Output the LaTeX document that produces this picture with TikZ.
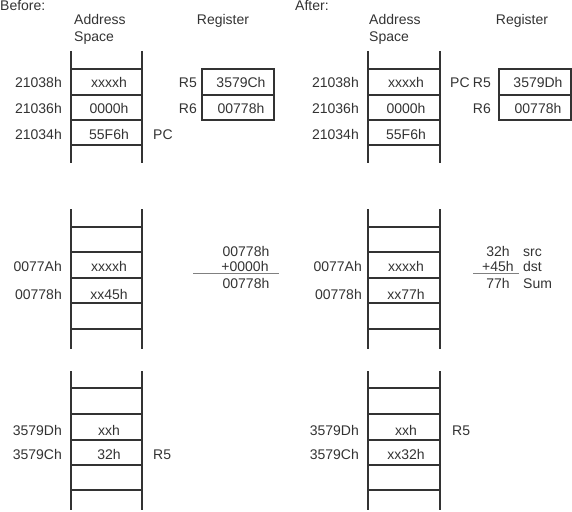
\documentclass[tikz,border=0pt]{standalone}
\usepackage{fontspec}
\setmainfont{Liberation Sans}
\usetikzlibrary{positioning}
\definecolor{ink}{HTML}{333333}

\begin{document}
\begin{tikzpicture}[
        x=1pt, y=-1pt,
        txt/.style={inner sep=0pt, text=ink, font=\fontsize{14}{16.5}\selectfont},
        addr/.style={txt, anchor=base east},
        cell/.style={txt, anchor=base},
        note/.style={txt, anchor=base west},
        rail/.style={draw=ink, line width=1.8pt},
        rung/.style={draw=ink, line width=1.5pt},
        regbox/.style={draw=ink, line width=1.6pt},
        sumline/.style={draw=gray, line width=1pt}
    ]
    \useasboundingbox (0,0) rectangle (572,511);

    % Before
    \node (before) [note] at (0,11) {Before:};
    \node (bspace) [note, align=left] at (74,41.5) {Address\\Space};
    \node (breg) [cell] at (223,25) {Register};

    \draw [rail] (71,51) -- (71,163) (142,51) -- (142,163);
    \draw [rung] (71,69) -- (142,69) (71,95) -- (142,95) (71,120) -- (142,120) (71,145) -- (142,145);
    \node (ba1) [addr] at (62,87.5) {21038h};
    \node (ba2) [addr] at (62,113) {21036h};
    \node (ba3) [addr] at (62,139) {21034h};
    \node (bc1) [cell] at (109,87.5) {xxxxh};
    \node (bc2) [cell] at (109,113) {0000h};
    \node (bc3) [cell] at (109,139) {55F6h};
    \node (bpc) [note] at (153,139) {PC};

    \draw [regbox] (202,69) rectangle (274,120) (202,95) -- (274,95);
    \node (br5) [addr] at (197,87.5) {R5};
    \node (br6) [addr] at (197,113) {R6};
    \node (bv5) [cell] at (241,87.5) {3579Ch};
    \node (bv6) [cell] at (241,113) {00778h};

    \draw [rail] (71,209) -- (71,349) (142,209) -- (142,349);
    \draw [rung] (71,227) -- (142,227) (71,252) -- (142,252) (71,278) -- (142,278) (71,303) -- (142,303) (71,329) -- (142,329);
    \node (bm1) [addr] at (62,271) {0077Ah};
    \node (bm2) [addr] at (62,299) {00778h};
    \node (bd1) [cell] at (109,271) {xxxxh};
    \node (bd2) [cell] at (109,299) {xx45h};

    \node (bs1) [cell] at (246,256) {00778h};
    \node (bs2) [cell] at (245,271) {+0000h};
    \node (bs3) [cell] at (246,288) {00778h};
    \draw [sumline] (193,273) -- (279,273);

    \draw [rail] (71,371) -- (71,510) (142,371) -- (142,510);
    \draw [rung] (71,388) -- (142,388) (71,414) -- (142,414) (71,440) -- (142,440) (71,465) -- (142,465) (71,490) -- (142,490);
    \node (bb1) [addr] at (62,435) {3579Dh};
    \node (bb2) [addr] at (62,459) {3579Ch};
    \node (be1) [cell] at (109,435) {xxh};
    \node (be2) [cell] at (109,459) {32h};
    \node (bbr5) [note] at (153,459) {R5};

    % After
    \node (after) [note] at (295,11) {After:};
    \node (aspace) [note, align=left] at (369,41.5) {Address\\Space};
    \node (areg) [cell] at (522,25) {Register};

    \draw [rail] (368,51) -- (368,163) (440,51) -- (440,163);
    \draw [rung] (368,69) -- (440,69) (368,95) -- (440,95) (368,120) -- (440,120) (368,145) -- (440,145);
    \node (aa1) [addr] at (359,87.5) {21038h};
    \node (aa2) [addr] at (359,113) {21036h};
    \node (aa3) [addr] at (359,139) {21034h};
    \node (ac1) [cell] at (406,87.5) {xxxxh};
    \node (ac2) [cell] at (406,113) {0000h};
    \node (ac3) [cell] at (406,139) {55F6h};
    \node (apc) [note] at (450,87.5) {PC};

    \draw [regbox] (499,69) rectangle (571,120) (499,95) -- (571,95);
    \node (ar5) [addr] at (491,87.5) {R5};
    \node (ar6) [addr] at (491,113) {R6};
    \node (av5) [cell] at (538,87.5) {3579Dh};
    \node (av6) [cell] at (538,113) {00778h};

    \draw [rail] (368,209) -- (368,349) (440,209) -- (440,349);
    \draw [rung] (368,227) -- (440,227) (368,252) -- (440,252) (368,278) -- (440,278) (368,303) -- (440,303) (368,329) -- (440,329);
    \node (am1) [addr] at (362,271) {0077Ah};
    \node (am2) [addr] at (362,299) {00778h};
    \node (ad1) [cell] at (406,271) {xxxxh};
    \node (ad2) [cell] at (406,299) {xx77h};

    \node (as1) [cell] at (498,256) {32h};
    \node (as2) [cell] at (498,271) {+45h};
    \node (as3) [cell] at (498,288) {77h};
    \draw [sumline] (473,273) -- (519,273);
    \node (asrc) [note] at (523,256) {src};
    \node (adst) [note] at (523,271) {dst};
    \node (asum) [note] at (523,288) {Sum};

    \draw [rail] (368,371) -- (368,510) (440,371) -- (440,510);
    \draw [rung] (368,388) -- (440,388) (368,414) -- (440,414) (368,440) -- (440,440) (368,465) -- (440,465) (368,490) -- (440,490);
    \node (ab1) [addr] at (359,435) {3579Dh};
    \node (ab2) [addr] at (359,459) {3579Ch};
    \node (ae1) [cell] at (406,435) {xxh};
    \node (ae2) [cell] at (406,459) {xx32h};
    \node (abr5) [note] at (452,435) {R5};
\end{tikzpicture}
\end{document}
